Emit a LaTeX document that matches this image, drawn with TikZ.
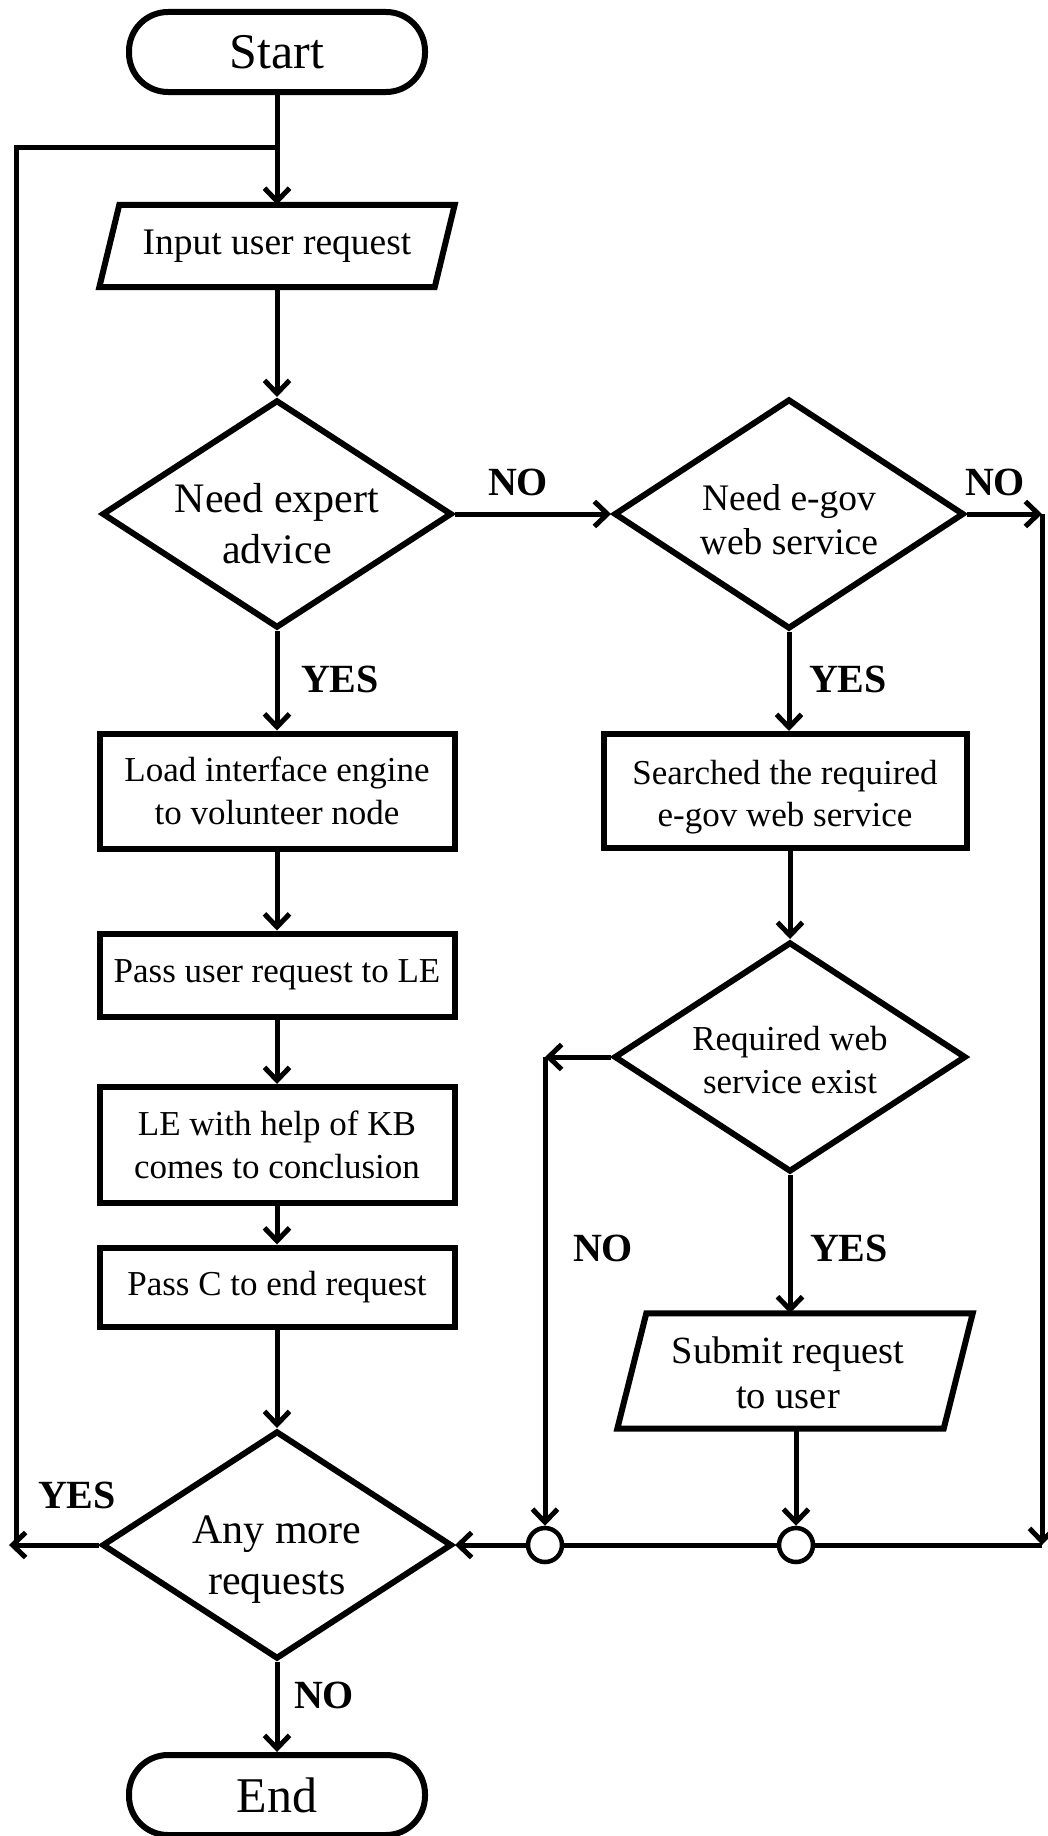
\documentclass[tikz,border=0pt]{standalone}
\usepackage{fontspec}
\setmainfont{Liberation Serif}
\usetikzlibrary{shapes.geometric,arrows.meta,calc}
\newcommand\fsterm{\fontsize{50}{58}\selectfont}
\newcommand\fsbig{\fontsize{42}{51}\selectfont}
\newcommand\fsmid{\fontsize{37.5}{44}\selectfont}
\newcommand\fssub{\fontsize{38.5}{45}\selectfont}
\newcommand\fsbox{\fontsize{35}{42.5}\selectfont}
\newcommand\fslab{\fontsize{40}{46}\selectfont\bfseries}
\begin{document}
\begin{tikzpicture}[x=1pt,y=-1pt,
  term/.style={draw, line width=6pt, rounded corners=39pt, minimum width=296pt, minimum height=80pt, inner sep=0pt, font=\fsterm},
  box/.style={draw, line width=6pt, inner sep=0pt, align=center, font=\fsbox},
  dec/.style={diamond, draw, line width=6pt, inner sep=0pt, aspect=1.5},
  dtext/.style={inner sep=0pt, align=center},
  io/.style={inner sep=0pt, align=center, font=\fsmid},
  outline/.style={draw, line width=6pt, line join=miter},
  conn/.style={line width=5pt},
  arr/.style={conn, -{Straight Barb[length=13pt,width=25pt]}},
  lab/.style={font=\fslab, inner sep=0pt},
  junc/.style={circle, draw, line width=4.5pt, fill=white, minimum size=34pt, inner sep=0pt}]
\useasboundingbox (0,0) rectangle (1047,1836);

% left column
\node[term] (start) at (277,52) {Start};
\node[io, minimum width=335pt, minimum height=82pt] (input) at (277,246) {Input user request};
\draw[outline] ([xshift=10pt]input.north west) -- ([xshift=10pt]input.north east) -- ([xshift=-10pt]input.south east) -- ([xshift=-10pt]input.south west) -- cycle;
\node[dec, minimum width=350pt, minimum height=228pt] (expert) at (277,514) {};
\node[dtext, font=\fsbig] (expertt) at (277,524) {Need expert\\advice};
\node[box, minimum width=355pt, minimum height=115pt] (load) at (277,791) {Load interface engine\\to volunteer node};
\node[box, minimum width=355pt, minimum height=83pt] (passu) at (277,975) {Pass user request to LE};
\node[box, minimum width=355pt, minimum height=116pt] (le) at (277,1145) {LE with help of KB\\comes to conclusion};
\node[box, minimum width=355pt, minimum height=79pt] (passc) at (277,1287) {Pass C to end request};
\node[dec, minimum width=350pt, minimum height=228pt] (more) at (277,1545) {};
\node[dtext, font=\fsbig] (moret) at (277,1560) {Any more\\requests};
\node[term] (end) at (277,1795) {End};

% right column
\node[dec, minimum width=350pt, minimum height=230pt] (egov) at (789,514) {};
\node[dtext, font=\fsmid] (egovt) at (789,520) {Need e-gov\\web service};
\node[box, minimum width=363pt, minimum height=114pt] (search) at (785,791) {};
\node[dtext, font=\fsbox] (searcht) at (785,797) {Searched the required\\e-gov web service};
\node[dec, minimum width=352pt, minimum height=230pt] (req) at (790,1057) {};
\node[dtext, font=\fsbox] (reqt) at (790,1060) {Required web\\service exist};
\node[io, minimum width=326pt, minimum height=115pt] (submit) at (795,1371) {};
\node[dtext, font=\fssub] (submitt) at (788,1373) {Submit request\\to user};
\draw[outline] ([xshift=14.5pt]submit.north west) -- ([xshift=14.5pt]submit.north east) -- ([xshift=-14.5pt]submit.south east) -- ([xshift=-14.5pt]submit.south west) -- cycle;

\node[junc] (j1) at (545,1545) {};
\node[junc] (j2) at (796,1545) {};

\coordinate (tl) at (16,147);
\coordinate (bl) at (16,1545);
\coordinate (blt) at (9,1545);
\coordinate (tr) at (1042,514);
\coordinate (br) at (1042,1545);
\coordinate (nl) at (545,1057);

% connectors
\draw[arr] (start.south) -- (input.north);
\draw[conn] (bl) -- (tl) -- (tl -| start.south);
\draw[arr] (more.west) -- (blt);
\draw[arr] (input.south) -- (expert.north);
\draw[arr] (expert.east) -- (egov.west);
\draw[arr] (egov.east) -- (tr);
\draw[arr] (tr) -- (br);
\draw[conn] (br) -- (j2.east);
\draw[conn] (j2.west) -- (j1.east);
\draw[arr] (j1.west) -- (more.east);
\draw[arr] (expert.south) -- (load.north);
\draw[arr] (load.south) -- (passu.north);
\draw[arr] (passu.south) -- (le.north);
\draw[arr] (le.south) -- (passc.north);
\draw[arr] (passc.south) -- (more.north);
\draw[arr] (more.south) -- (end.north);
\draw[arr] (egov.south) -- (egov.south |- search.north);
\draw[arr] (req.north |- search.south) -- (req.north);
\draw[arr] (req.west) -- (nl);
\draw[arr] (nl) -- (j1.north);
\draw[arr] (req.south) -- (req.south |- submit.north);
\draw[arr] (submit.south -| j2) -- (j2.north);

% labels
\node[lab] (no1) at (518,482) {NO};
\node[lab] (no2) at (995,482) {NO};
\node[lab] (yes1) at (340,679) {YES};
\node[lab] (yes2) at (848,679) {YES};
\node[lab] (no3) at (603,1248) {NO};
\node[lab] (yes3) at (849,1248) {YES};
\node[lab] (yes4) at (77,1495) {YES};
\node[lab] (no4) at (324,1695) {NO};
\end{tikzpicture}
\end{document}
